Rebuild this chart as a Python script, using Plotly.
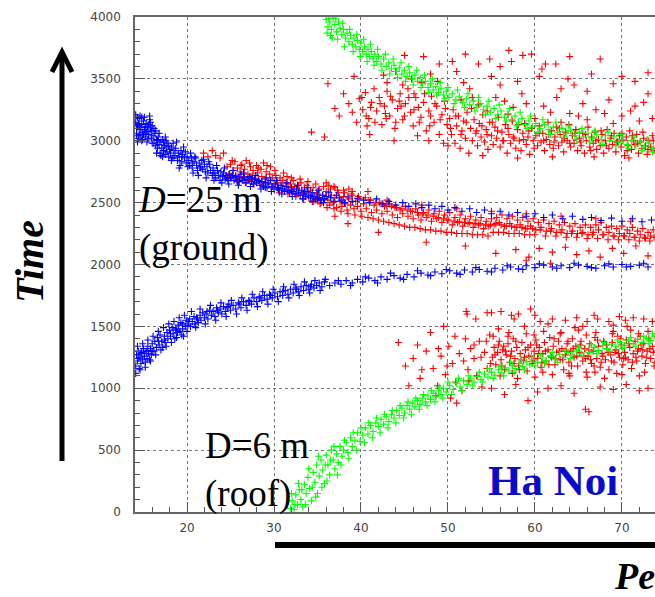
import plotly.graph_objects as go

# ---------------- data ----------------
blue_upper = [
(14.1,3150),(14.2,3060),(14.3,3120),(14.4,3020),(14.5,3180),(14.6,3090),(14.7,3040),(14.8,3130),(14.9,3070),(15.0,3160),
(14.2,3100),(14.5,3050),(14.7,3110),(14.9,3010),(14.3,3190),(15.1,3090),(15.2,3030),(15.3,3140),(15.4,3075),(15.5,3110),
(15.6,3050),(15.7,3170),(15.8,3095),(15.9,3020),(16.0,3120),(15.3,3060),(15.6,3130),(15.9,3080),
(16.1,3040),(16.2,2980),(16.3,3060),(16.4,2960),(16.5,3010),(16.6,2940),(16.7,3030),(16.8,2970),(16.9,2900),(17.0,2990),
(17.1,2940),(17.2,3010),(17.3,2920),(17.4,2960),(17.5,2890),(17.6,2950),(17.7,2910),(17.8,2980),(17.9,2870),(18.0,2930),
(16.4,3080),(17.0,2880),(17.6,3000),
(18.1,2900),(18.2,2950),(18.3,2860),(18.5,2920),(18.6,2880),(18.7,2940),(18.9,2840),(19.0,2900),(19.1,2870),(19.3,2920),
(19.4,2830),(19.5,2890),(19.7,2860),(19.8,2910),(19.9,2820),(20.0,2870),(18.4,2980),(19.2,2800),
(20.2,2840),(20.3,2800),(20.5,2860),(20.6,2780),(20.8,2830),(20.9,2870),(21.1,2800),(21.2,2760),(21.4,2820),(21.5,2790),
(21.7,2840),(21.8,2770),(22.0,2810),(22.1,2750),
(22.3,2790),(22.4,2740),(22.6,2810),(22.7,2760),(22.9,2720),(23.0,2780),(23.2,2740),(23.3,2700),(23.5,2760),(23.6,2720),
(23.8,2680),(23.9,2750),(24.1,2710),(24.2,2740),(24.4,2690),(24.5,2720),(24.7,2680),(24.9,2730),(25.0,2700),
(25.2,2720),(25.4,2680),(25.6,2710),(25.8,2670),(26.0,2700),(26.2,2730),(26.4,2680),(26.6,2700),(26.8,2660),(27.0,2690),
(27.2,2710),(27.4,2670),(27.6,2650),(27.8,2690),(28.0,2660),(28.2,2680),(28.4,2640),(28.6,2670),(28.8,2630),(29.0,2660),
(29.2,2620),(29.4,2650),(29.6,2680),(29.8,2630),(30.0,2610),
(30.2,2650),(30.4,2620),(30.6,2600),(30.8,2640),(31.0,2610),(31.2,2590),(31.4,2630),(31.6,2600),(31.8,2580),(32.0,2620),
(32.2,2590),(32.4,2570),(32.6,2610),(32.8,2580),(33.0,2560),(33.2,2600),(33.4,2570),(33.6,2550),(33.8,2590),(34.0,2560),
(34.2,2540),(34.4,2580),(34.6,2550),(34.8,2530),(35.0,2570),(35.2,2540),(35.4,2520),(35.6,2560),(35.8,2530),(36.0,2550),
(36.5,2540),(37.2,2560),(37.8,2520),(38.5,2545),(39.0,2510),(39.6,2535),(40.3,2520),(41.0,2500),(41.8,2530),(42.5,2490),
(43.2,2510),(44.0,2480),(44.8,2500),(45.5,2470),(46.3,2490),(47.0,2460),(47.8,2480),(48.5,2450),(49.3,2470),(50.0,2440),
(50.8,2460),(51.6,2430),(52.5,2450),(53.3,2420),(54.2,2440),(55.0,2410),(56.0,2430),(57.0,2400),(58.0,2420),(59.0,2390),
(60.0,2410),(61.0,2380),(62.0,2400),(63.2,2370),(64.3,2390),(65.5,2365),(66.5,2380),(67.6,2355),(68.8,2375),(70.0,2350),
(71.2,2370),(72.3,2345),(73.4,2360),
]
blue_upper_extra = [
(14.1,3210),(14.3,2990),(14.6,3200),(14.8,3000),(15.1,3190),(15.4,2990),(15.7,3200),(16.0,2980),(14.4,3140),(15.0,3050),
(15.5,3015),(16.2,3100),(16.5,2900),(16.8,3060),(17.2,2870),(17.5,3030),(17.9,2960),(18.2,2840),(18.8,2990),(19.1,2780),
(19.6,2950),(20.1,2790),(20.4,2900),(20.7,2740),(21.0,2860),(21.3,2720),(21.9,2850),(22.2,2700),(22.5,2830),(23.1,2680),
(23.4,2800),(24.0,2660),(24.3,2780),(24.8,2650),(25.3,2760),(25.9,2640),(26.5,2740),(27.3,2630),(27.9,2720),(28.5,2610),
(29.1,2700),(29.7,2590),(30.3,2680),(30.9,2570),(31.5,2660),(32.1,2550),(32.7,2640),(33.3,2530),(33.9,2620),(34.5,2510),
(35.1,2600),(35.7,2500),(36.3,2580),(36.9,2510),(37.5,2540),(38.1,2500),(14.2,3040),(14.5,3130),(14.8,3190),(15.2,3110),
(15.8,3150),(16.6,3000),(17.3,2990),(18.5,2860),(19.4,2870),(20.6,2820),(21.6,2780),(23.0,2740),(24.6,2700),(26.0,2670),
(27.5,2700),(29.0,2620),(30.5,2610),(32.0,2600),(33.5,2590),(35.0,2530),
]

blue_lower = [
(14.1,1180),(14.2,1270),(14.3,1220),(14.4,1300),(14.5,1160),(14.6,1250),(14.7,1200),(14.8,1290),(14.9,1230),(15.0,1320),
(15.1,1260),(15.2,1210),(15.3,1300),(15.4,1240),(15.5,1340),(15.6,1280),(15.7,1230),(15.8,1320),(15.9,1270),(16.0,1360),
(16.2,1300),(16.3,1380),(16.5,1330),(16.6,1410),(16.8,1350),(16.9,1430),(17.1,1380),(17.2,1330),(17.4,1420),(17.5,1370),
(17.7,1450),(17.8,1400),(18.0,1470),(18.1,1420),(18.3,1490),(18.4,1440),(18.6,1400),(18.7,1480),(18.9,1450),(19.0,1510),
(19.2,1460),(19.3,1530),(19.5,1480),(19.6,1420),(19.8,1500),(19.9,1550),(20.1,1510),(20.3,1560),(20.4,1500),(20.6,1540),
(20.8,1580),(20.9,1520),(21.1,1570),(21.3,1530),(21.5,1590),(21.6,1550),(21.8,1610),(22.0,1570),(22.2,1600),(22.4,1560),
(22.6,1630),(22.8,1590),(23.0,1620),(23.2,1580),(23.4,1650),(23.6,1610),(23.8,1640),(24.0,1600),(24.2,1660),(24.4,1620),
(24.6,1650),(24.8,1680),(25.0,1630),(25.3,1670),(25.6,1640),(25.9,1690),(26.2,1650),(26.5,1700),(26.8,1670),(27.1,1710),
(27.4,1680),(27.7,1730),(28.0,1700),(28.3,1740),(28.6,1710),(28.9,1750),(29.2,1720),(29.5,1760),(29.8,1730),(30.1,1770),
(30.4,1740),(30.7,1780),(31.0,1750),(31.3,1790),(31.6,1760),(31.9,1800),(32.2,1770),(32.5,1810),(32.8,1780),(33.1,1820),
(33.4,1790),(33.7,1830),(34.0,1800),(34.3,1840),(34.6,1810),(34.9,1830),(35.2,1850),(35.5,1820),(35.8,1860),
(36.4,1830),(37.0,1850),(37.7,1840),(38.3,1870),(39.0,1850),(39.6,1880),(40.2,1860),(40.9,1890),(41.6,1870),(42.3,1900),
(43.0,1880),(43.8,1910),(44.5,1890),(45.3,1920),(46.1,1900),(46.9,1930),(47.7,1915),(48.5,1940),(49.3,1925),(50.2,1950),
(51.0,1930),(51.9,1955),(52.8,1940),(53.6,1960),(54.5,1945),(55.4,1970),(56.3,1955),(57.2,1980),(58.1,1965),(59.0,1990),
(60.0,1975),(61.0,1995),(62.0,1980),(63.0,1990),(64.0,1975),(65.0,1995),(66.0,1985),(67.0,1970),(68.0,1990),(69.0,1980),
(70.0,2000),(71.0,1985),(72.0,1995),(73.0,1980),
]
blue_lower_extra = [
(14.1,1120),(14.3,1340),(14.6,1150),(14.9,1360),(15.2,1170),(15.5,1390),(15.8,1220),(16.1,1420),(16.4,1270),(16.7,1460),
(17.0,1310),(17.3,1490),(17.6,1340),(17.9,1520),(18.2,1370),(18.5,1540),(18.8,1410),(19.1,1570),(19.4,1430),(19.7,1590),
(20.0,1460),(20.5,1620),(21.0,1490),(21.5,1640),(22.1,1520),(22.7,1670),(23.3,1550),(23.9,1690),(24.5,1580),(25.1,1710),
(25.7,1600),(26.3,1730),(26.9,1630),(27.5,1760),(28.1,1660),(28.7,1780),(29.3,1680),(29.9,1800),(30.5,1700),(31.1,1820),
(31.7,1730),(32.3,1840),(32.9,1750),(33.5,1860),(34.1,1770),(34.7,1870),(35.3,1790),(35.9,1880),(14.4,1240),(14.7,1280),
(15.4,1300),(16.0,1300),(16.7,1380),(17.4,1390),(18.1,1440),(18.8,1470),(19.5,1520),(20.2,1540),(21.2,1560),(22.3,1620),
(23.5,1630),(24.7,1660),(26.0,1680),(27.2,1700),(28.4,1730),(29.6,1750),(31.0,1780),(32.6,1800),(34.2,1820),
(37.4,1870),(38.8,1830),(40.5,1900),(41.9,1850),(43.4,1930),(44.9,1880),(46.5,1950),(48.0,1910),(49.8,1960),(51.4,1920),
(53.2,1975),(55.0,1940),(56.8,1990),(58.6,1960),(60.5,2005),(62.5,1970),(64.5,2010),(66.5,1975),(68.5,2005),(70.5,1980),
(72.5,2010),
]

green_upper = [
(36.0,3980),(36.2,3920),(36.4,3960),(36.6,3900),(36.8,3990),(37.0,3940),(37.2,3880),(37.4,3960),(37.6,3910),(37.8,3860),
(36.5,3850),(37.1,3990),(38.0,3900),(38.2,3830),(38.4,3870),(38.6,3800),(38.8,3850),(39.0,3780),(39.2,3830),(39.4,3760),
(39.6,3810),(39.8,3740),(40.0,3790),(40.2,3720),(40.4,3760),(40.6,3700),(40.8,3740),(41.0,3680),(41.2,3720),(41.4,3660),
(41.6,3700),(41.8,3640),(42.0,3680),(42.3,3620),(42.6,3660),(42.9,3600),(43.2,3630),(43.5,3580),(43.8,3610),(44.1,3560),
(44.4,3590),(44.7,3540),(45.0,3570),(45.3,3520),(45.6,3550),(45.9,3500),(46.2,3530),(46.5,3480),(46.8,3510),(47.1,3460),
(47.4,3480),(47.7,3430),(48.0,3460),(48.3,3410),(48.6,3440),(48.9,3390),(49.2,3420),(49.5,3370),(49.8,3400),(50.1,3350),
(50.5,3380),(50.9,3330),(51.3,3360),(51.7,3310),(52.1,3340),(52.5,3290),(52.9,3320),(53.3,3270),(53.7,3300),(54.1,3250),
(54.5,3280),(54.9,3230),(55.3,3260),(55.7,3210),(56.1,3240),(56.5,3190),(56.9,3220),(57.3,3170),(57.7,3200),(58.1,3150),
(58.5,3180),(58.9,3130),(59.3,3160),(59.7,3110),(60.1,3140),(60.6,3100),(61.1,3130),(61.6,3090),(62.1,3110),(62.6,3070),
(63.1,3100),(63.6,3060),(64.1,3080),(64.6,3040),(65.1,3070),(65.6,3030),(66.1,3060),(66.6,3020),(67.1,3050),(67.6,3010),
(68.1,3040),(68.6,3000),(69.1,3030),(69.6,2990),(70.1,3010),(70.6,2970),(71.1,3000),(71.6,2960),(72.1,2990),(72.6,2950),
(73.1,2980),(73.6,2940),
]
green_upper_extra = [
(36.1,3870),(36.3,3990),(36.7,3830),(37.3,3820),(37.9,3950),(38.1,3760),(38.7,3900),(39.1,3720),(39.5,3860),(39.9,3680),
(40.3,3820),(40.7,3640),(41.1,3780),(41.5,3610),(41.9,3740),(42.4,3570),(42.8,3700),(43.3,3540),(43.7,3660),(44.2,3510),
(44.6,3630),(45.1,3480),(45.5,3600),(46.0,3450),(46.4,3570),(46.9,3430),(47.3,3530),(47.8,3390),(48.2,3500),(48.7,3370),
(49.1,3470),(49.6,3340),(50.0,3430),(50.7,3300),(51.1,3410),(51.9,3270),(52.3,3380),(53.1,3240),(53.5,3350),(54.3,3210),
(54.7,3320),(55.5,3180),(55.9,3290),(56.7,3160),(57.1,3260),(57.9,3120),(58.3,3230),(59.1,3100),(59.5,3200),(60.3,3070),
(60.9,3170),(61.8,3050),(62.4,3150),(63.3,3030),(63.9,3120),(64.8,3010),(65.4,3100),(66.3,2990),(66.9,3080),(67.8,2970),
(68.4,3070),(69.3,2960),(69.9,3050),(70.8,2940),(71.4,3030),(72.3,2920),(72.9,3010),(73.5,2910),
]

green_lower = [
(31.9,30),(32.1,90),(32.3,20),(32.5,140),(32.7,60),(32.9,180),(33.1,100),(33.3,40),(33.5,220),(33.7,150),
(33.9,280),(34.1,190),(34.3,90),(34.5,320),(34.7,240),(34.9,380),(35.0,150),(35.2,290),(35.4,420),(35.6,340),
(35.8,230),(36.0,460),(36.2,380),(36.4,300),(36.6,500),(36.8,420),(37.0,350),(37.2,470),(37.4,400),(37.6,530),
(37.8,450),(38.0,500),(38.3,560),(38.5,480),(38.8,600),(39.0,530),(39.3,580),(39.6,640),(39.9,570),(40.2,620),
(40.5,680),(40.8,630),(41.1,700),(41.4,650),(41.7,720),(42.0,690),(42.3,750),(42.6,710),(42.9,770),(43.2,730),
(43.5,790),(43.8,760),(44.1,820),(44.4,780),(44.7,840),(45.0,800),(45.3,860),(45.6,830),(45.9,880),(46.2,850),
(46.5,900),(46.8,870),(47.1,920),(47.4,890),(47.7,940),(48.0,910),(48.3,960),(48.6,930),(48.9,980),(49.2,950),
(49.5,1000),(49.8,970),(50.2,1020),(50.6,990),(51.0,1040),(51.4,1010),(51.8,1060),(52.2,1030),(52.6,1075),(53.0,1050),
(53.4,1095),(53.8,1070),(54.2,1115),(54.6,1090),(55.0,1130),(55.4,1105),(55.8,1150),(56.2,1125),(56.6,1165),(57.0,1140),
(57.4,1180),(57.8,1160),(58.2,1200),(58.6,1175),(59.0,1215),(59.4,1190),(59.8,1230),(60.3,1205),(60.8,1245),(61.3,1220),
(61.8,1260),(62.3,1235),(62.8,1275),(63.3,1250),(63.8,1290),(64.3,1265),(64.8,1300),(65.3,1280),(65.8,1315),(66.3,1290),
(66.8,1330),(67.3,1305),(67.8,1345),(68.3,1320),(68.8,1355),(69.3,1335),(69.8,1370),(70.3,1345),(70.8,1385),(71.3,1360),
(71.8,1395),(72.3,1370),(72.8,1405),(73.3,1385),(73.7,1420),
]
green_lower_extra = [
(32.0,150),(32.4,60),(32.8,230),(33.2,180),(33.6,60),(34.0,350),(34.4,200),(34.8,120),(35.1,450),(35.5,200),
(35.9,380),(36.1,250),(36.5,420),(36.9,530),(37.3,300),(37.7,380),(38.1,580),(38.6,430),(39.1,640),(39.5,500),
(40.0,680),(40.4,560),(40.9,720),(41.3,600),(41.8,760),(42.2,640),(42.7,790),(43.1,680),(43.6,820),(44.0,720),
(44.5,860),(44.9,760),(45.4,890),(45.8,790),(46.3,920),(46.7,830),(47.2,950),(47.6,860),(48.1,980),(48.5,890),
(49.0,1010),(49.4,920),(50.0,1050),(50.4,950),(51.2,1080),(51.6,980),(52.4,1100),(52.8,1020),(53.6,1130),(54.0,1050),
(54.8,1160),(55.2,1080),(56.0,1180),(56.4,1100),(57.2,1210),(57.6,1130),(58.4,1230),(58.8,1150),(59.6,1250),(60.0,1180),
(60.6,1270),(61.1,1200),(62.0,1290),(62.6,1210),(63.5,1310),(64.1,1240),(65.0,1330),(65.6,1250),(66.5,1350),(67.1,1280),
(68.0,1370),(68.6,1300),(69.5,1390),(70.1,1320),(71.0,1410),(71.6,1340),(72.5,1420),(73.1,1360),(73.5,1440),
]

red_middle = [
(21.9,2900),(22.4,2870),(22.9,2920),(23.3,2880),(23.8,2860),(24.2,2900),
(24.6,2790),(24.8,2730),(25.0,2810),(25.1,2700),(25.3,2760),(25.5,2830),(25.6,2720),(25.8,2780),(26.0,2690),(26.1,2750),
(26.3,2810),(26.5,2710),(26.6,2770),(26.8,2840),(27.0,2730),(27.1,2680),(27.3,2790),(27.5,2720),(27.6,2760),(27.8,2690),
(28.0,2800),(28.1,2740),(28.3,2670),(28.5,2770),(28.6,2710),(28.8,2820),(29.0,2690),(29.1,2750),(29.3,2660),(29.5,2730),
(29.6,2790),(29.8,2700),(30.0,2650),
(30.2,2720),(30.4,2660),(30.5,2620),(30.7,2700),(30.9,2640),(31.0,2680),(31.2,2600),(31.4,2660),(31.5,2710),(31.7,2620),
(31.9,2650),(32.1,2590),(32.2,2680),(32.4,2630),(32.6,2570),(32.8,2640),(32.9,2600),(33.1,2660),(33.3,2560),(33.5,2620),
(33.6,2580),(33.8,2640),(34.0,2540),(34.2,2600),(34.3,2560),(34.5,2620),(34.7,2520),(34.9,2580),(35.1,2540),(35.2,2610),
(35.4,2500),(35.6,2560),(35.8,2530),(36.0,2590),
(36.2,2520),(36.4,2480),(36.6,2560),(36.8,2500),(37.0,2540),(37.2,2460),(37.4,2580),(37.6,2510),(37.8,2470),(38.0,2550),
(38.2,2490),(38.4,2440),(38.6,2530),(38.8,2480),(39.0,2560),(39.2,2450),(39.4,2510),(39.6,2470),(39.8,2530),(40.0,2430),
(40.3,2490),(40.6,2450),(40.9,2520),(41.2,2420),(41.5,2480),(41.8,2440),(42.1,2500),(42.4,2410),(42.7,2470),(43.0,2430),
(43.3,2490),(43.6,2400),(43.9,2460),(44.2,2380),(44.5,2440),(44.8,2410),
(45.1,2470),(45.4,2390),(45.7,2430),(46.0,2370),(46.3,2450),(46.6,2400),(46.9,2360),(47.2,2420),(47.5,2380),(47.8,2440),
(48.1,2350),(48.4,2410),(48.7,2370),(49.0,2430),(49.3,2340),(49.6,2400),(49.9,2360),(50.2,2420),(50.5,2320),(50.8,2380),
(51.1,2340),(51.4,2400),(51.7,2310),(52.0,2370),(52.3,2330),(52.6,2390),(52.9,2300),(53.2,2360),(53.5,2320),(53.8,2380),
(54.1,2290),(54.4,2350),(54.7,2310),(55.0,2370),
(55.3,2320),(55.6,2380),(55.9,2340),(56.2,2400),(56.5,2310),(56.8,2370),(57.1,2330),(57.4,2390),(57.7,2300),(58.0,2360),
(58.3,2320),(58.6,2380),(58.9,2290),(59.2,2350),(59.5,2310),(59.8,2370),(60.1,2280),(60.4,2340),(60.7,2300),(61.0,2360),
(61.3,2270),(61.6,2330),(61.9,2290),(62.2,2350),(62.5,2260),(62.8,2320),(63.1,2280),(63.4,2340),(63.7,2250),(64.0,2310),
(64.3,2270),(64.6,2330),(64.9,2250),(65.2,2300),(65.5,2260),(65.8,2320),(66.1,2240),(66.4,2300),(66.7,2260),(67.0,2320),
(67.3,2280),(67.6,2340),(67.9,2240),(68.2,2300),(68.5,2260),(68.8,2310),(69.1,2230),(69.4,2290),(69.7,2250),(70.0,2310),
(70.3,2230),(70.6,2280),(70.9,2250),(71.2,2300),(71.5,2220),(71.8,2270),(72.1,2240),(72.4,2290),(72.7,2210),(73.0,2260),
(73.3,2230),(73.6,2280),
(52.0,2150),(55.5,2090),(57.8,2120),(59.3,2060),(60.5,2130),(62.0,2100),(63.5,2140),(64.8,2080),(66.2,2110),(67.5,2060),
(68.9,2130),(70.2,2090),(71.6,2150),(73.0,2070),(59.0,2030),(61.8,2010),(47.5,2180),(42.0,2260),(38.5,2330),(37.0,2390),
(36.3,2640),(36.9,2630),(38.6,2610),(40.8,2590),
]
red_middle_extra = [
(24.7,2700),(25.2,2840),(25.7,2680),(26.2,2800),(26.7,2660),(27.2,2820),(27.7,2650),(28.2,2780),(28.7,2640),(29.2,2800),
(29.7,2620),(30.1,2760),(30.6,2580),(31.1,2740),(31.6,2570),(32.0,2700),(32.5,2550),(33.0,2690),(33.4,2530),(33.9,2670),
(34.4,2510),(34.8,2650),(35.3,2490),(35.7,2630),(36.1,2460),(36.5,2610),(36.9,2450),(37.3,2600),(37.7,2430),(38.1,2580),
(38.5,2410),(38.9,2570),(39.3,2400),(39.7,2550),(40.1,2390),(40.5,2540),(40.8,2380),(41.1,2520),(41.4,2370),(41.7,2500),
(42.0,2360),(42.3,2490),(42.6,2350),(42.9,2480),(43.2,2340),(43.5,2470),(43.8,2330),(44.1,2460),(44.4,2320),(44.7,2450),
(45.0,2310),(45.3,2440),(45.6,2300),(45.9,2430),(46.2,2300),(46.5,2420),(46.8,2290),(47.1,2410),(47.4,2280),(47.7,2400),
(48.0,2280),(48.3,2390),(48.6,2270),(48.9,2380),(49.2,2270),(49.5,2370),(49.8,2260),(50.1,2360),(50.4,2260),(50.7,2350),
(51.0,2250),(51.3,2350),(51.6,2250),(51.9,2340),(52.2,2250),(52.5,2340),(52.8,2240),(53.1,2330),(53.4,2240),(53.7,2330),
(54.0,2240),(54.3,2320),(54.6,2230),(54.9,2320),
(55.2,2260),(55.5,2330),(55.8,2260),(56.1,2320),(56.4,2260),(56.7,2310),(57.0,2250),(57.3,2310),(57.6,2250),(57.9,2300),
(58.2,2250),(58.5,2300),(58.8,2240),(59.1,2290),(59.4,2240),(59.7,2290),(60.0,2240),(60.6,2280),(61.2,2230),(61.8,2270),
(62.4,2230),(63.0,2260),(63.6,2220),(64.2,2250),(64.8,2220),(65.4,2250),(66.0,2210),(66.6,2240),(67.2,2210),(67.8,2240),
(68.4,2200),(69.0,2230),(69.6,2200),(70.2,2230),(70.8,2200),(71.4,2220),(72.0,2190),(72.6,2220),(73.2,2190),(73.7,2220),
(43.0,2520),(47.0,2480),(51.0,2450),(55.0,2430),(59.0,2410),(63.0,2390),(67.0,2370),(71.0,2350),(36.0,2660),(37.0,2620),
(38.0,2600),(39.0,2590),
]

red_upper = [
(36.2,3460),(34.3,3070),(35.8,3030),(37.5,3200),(38.0,3380),(38.6,3300),(39.2,3520),(39.5,3150),(39.8,3340),(37.0,3260),
(40.2,3250),(40.5,3390),(40.9,3180),(41.2,3310),(41.5,3420),(41.8,3240),(42.1,3350),(42.4,3130),(42.7,3280),(43.0,3400),
(43.3,3200),(43.6,3330),(43.9,3100),(44.2,3260),(44.5,3380),(44.8,3170),(45.1,3300),(45.4,3420),(45.7,3230),(46.0,3120),
(46.3,3350),(46.6,3270),(46.9,3190),(47.2,3310),(47.5,3080),(47.8,3240),(48.1,3360),(48.4,3150),(48.7,3280),(49.0,3050),
(49.3,3210),(49.6,3320),(49.9,3130),(45.8,3500),(42.6,3530),(47.0,3470),(44.0,3560),(48.8,3480),(41.0,3050),(43.8,3000),
(46.5,3040),(49.5,2980),(40.7,3120),(44.6,3280),(48.0,3200),(42.9,3180),(46.1,3380),
(50.2,3180),(50.4,3050),(50.6,3250),(50.8,2980),(51.0,3120),(51.2,3200),(51.4,2940),(51.6,3080),(51.8,3160),(52.0,3020),
(52.2,3230),(52.4,2900),(52.6,3100),(52.8,3000),(53.0,3170),(53.2,3060),(53.4,2960),(53.6,3140),(53.8,3030),(54.0,3210),
(54.2,2990),(54.4,3090),(54.6,2930),(54.8,3150),(55.0,3040),(55.2,2970),(55.4,3110),(55.6,3020),(55.8,3190),(56.0,2950),
(56.2,3070),(56.4,3000),(56.6,3130),(56.8,2900),(57.0,3050),(57.2,2980),(57.4,3160),(57.6,3020),(57.8,2940),(58.0,3090),
(58.2,3000),(58.4,2920),(58.6,3060),(58.8,3140),(59.0,2970),(59.2,3030),(59.4,2890),(59.6,3100),(59.8,3000),(51.5,3330),
(53.5,3290),(55.5,3350),(57.5,3270),(59.0,3300),(52.5,3420),(56.0,3450),(58.5,3380),(54.5,3240),(56.9,3210),
(60.1,3040),(60.3,2960),(60.5,3120),(60.7,2990),(60.9,3060),(61.1,2920),(61.3,3010),(61.5,3150),(61.7,2970),(61.9,3080),
(62.1,2940),(62.3,3030),(62.5,3110),(62.7,2960),(62.9,3050),(63.1,2990),(63.3,2910),(63.5,3070),(63.7,3000),(63.9,3130),
(64.1,2950),(64.3,3040),(64.5,2980),(64.7,3090),(64.9,2920),(65.1,3020),(65.3,2960),(65.5,3060),(65.7,2900),(65.9,3000),
(66.1,3110),(66.3,2950),(66.5,3030),(66.7,2980),(66.9,3070),(67.1,2930),(67.3,3010),(67.5,2960),(67.7,3050),(67.9,2900),
(68.1,3000),(68.3,3090),(68.5,2940),(68.7,3020),(68.9,2970),(69.1,3060),(69.3,2910),(69.5,2990),(69.7,3040),(69.9,2950),
(70.1,3000),(70.3,2880),(70.5,3030),(70.7,2960),(70.9,3080),(71.1,2930),(71.3,3000),(71.5,2970),(71.7,3050),(71.9,2900),
(72.1,2990),(72.3,2940),(72.5,3020),(72.7,2960),(72.9,2890),(73.1,3000),(73.3,2950),(73.5,3040),(73.7,2920),
(61.0,3280),(62.5,3350),(64.0,3220),(65.5,3300),(67.0,3250),(68.5,3330),(70.0,3200),(71.5,3280),(73.0,3380),(63.0,3420),
(66.0,3400),(69.0,3460),(72.5,3310),
(45.0,3690),(47.2,3680),(49.0,3620),(50.5,3640),(52.0,3700),(53.5,3620),(54.8,3660),(56.0,3600),(57.3,3640),(58.6,3690),
(59.6,3700),(61.2,3620),(62.4,3620),(64.0,3680),(67.5,3660),(73.0,3550),(51.0,3560),(55.0,3520),(48.0,3540),(60.5,3520),
(63.8,3500),(66.5,3540),(70.0,3520),(71.5,3480),
]
red_upper_extra = [
(40.1,3350),(40.6,3200),(41.1,3270),(41.6,3150),(42.2,3300),(42.8,3220),(43.4,3360),(44.0,3150),(44.4,3320),(45.0,3200),
(45.5,3350),(46.1,3250),(46.7,3150),(47.3,3380),(47.9,3120),(48.5,3300),(49.1,3170),(49.7,3260),(50.3,3100),(50.9,3200),
(51.5,3050),(52.1,3150),(52.7,3260),(53.3,3080),(53.9,3120),(54.5,3050),(55.1,3150),(55.7,3080),(56.3,3000),(56.9,3100),
(57.5,3030),(58.1,3130),(58.7,3010),(59.3,3080),(59.9,2940),(60.5,3060),(61.0,3000),(61.6,3050),(62.2,2990),(62.8,3100),
(63.4,3020),(64.0,2980),(64.6,3060),(65.2,2990),(65.8,3050),(66.4,2920),(67.0,3000),(67.6,3080),(68.2,2960),(68.8,3040),
(69.4,2990),(70.0,3060),(70.6,2920),(71.2,3040),(71.8,2980),(72.4,3070),(73.0,2930),(73.6,3000),(60.0,3180),(63.0,3150),
(66.0,3170),(69.0,3140),(72.0,3160),(58.0,2860),(62.0,2870),(66.8,2870),(70.8,2860),(54.0,2880),(50.0,2960),(47.8,3000),
(52.8,3350),(56.5,3320),(61.8,3230),(65.0,3200),(68.0,3220),(71.0,3240),(73.5,3180),(44.8,3450),(51.8,3470),(58.0,3480),
(64.5,3450),(57.0,3730),(60.8,3580),(43.0,3470),(39.0,3230),
]

red_lower = [
(44.3,1370),(45.1,1180),(46.0,1240),(46.8,1080),(47.5,1300),(48.0,1450),(48.3,1160),(48.8,1020),(49.2,1260),(49.7,1110),
(50.1,1340),(50.5,1200),(50.9,1050),(51.3,1280),(51.6,980),(52.0,1400),(52.3,1150),(52.6,1320),(48.6,940),(50.3,920),
(51.0,880),(52.1,1620),(53.0,1240),(53.3,1100),(53.6,1380),(53.9,1010),(54.2,1290),(54.5,1160),(54.8,1430),(49.5,1500),
(55.1,1250),(55.3,1330),(55.5,1190),(55.7,1290),(55.9,1380),(56.1,1230),(56.3,1310),(56.5,1150),(56.7,1270),(56.9,1360),
(57.1,1210),(57.3,1300),(57.5,1400),(57.7,1240),(57.9,1330),(58.1,1180),(58.3,1280),(58.5,1370),(58.7,1220),(58.9,1310),
(59.1,1140),(59.3,1260),(59.5,1350),(59.7,1200),(59.9,1300),(60.1,1390),(60.3,1240),(60.5,1330),(60.7,1170),(60.9,1280),
(61.1,1370),(61.3,1220),(61.5,1310),(61.7,1410),(61.9,1250),(62.1,1340),(62.3,1190),(62.5,1290),(62.7,1380),(62.9,1230),
(63.1,1320),(63.3,1150),(63.5,1270),(63.7,1360),(63.9,1210),(64.1,1300),(64.3,1400),(64.5,1250),(64.7,1340),(64.9,1180),
(65.1,1290),(65.3,1380),(65.5,1220),(65.7,1320),(65.9,1130),(66.1,1260),(66.3,1360),(66.5,1200),(66.7,1300),(66.9,1410),
(67.1,1240),(67.3,1340),(67.5,1170),(67.7,1280),(67.9,1380),(68.1,1230),(68.3,1320),(68.5,1150),(68.7,1270),(68.9,1370),
(69.1,1210),(69.3,1310),(69.5,1420),(69.7,1250),(69.9,1350),(70.1,1190),(70.3,1290),(70.5,1390),(70.7,1230),(70.9,1330),
(71.1,1160),(71.3,1280),(71.5,1380),(71.7,1220),(71.9,1320),(72.1,1420),(72.3,1260),(72.5,1360),(72.7,1200),(72.9,1300),
(73.1,1400),(73.3,1240),(73.5,1340),(73.7,1180),
(55.2,1420),(56.0,1100),(57.0,1450),(58.0,1080),(59.0,1440),(60.0,1090),(61.0,1460),(62.0,1110),(63.0,1450),(64.0,1100),
(65.0,1470),(66.0,1090),(67.0,1450),(68.0,1080),(69.0,1460),(70.0,1110),(71.0,1470),(72.0,1100),(73.0,1460),(74.0,1300),
(56.4,1340),(58.4,1230),(60.4,1280),(62.4,1240),(64.4,1320),(66.4,1230),(68.4,1290),(70.4,1250),(72.4,1310),(57.6,1200),
(59.6,1260),(61.6,1190),(63.6,1300),(65.6,1260),(67.6,1210),(69.6,1280),(71.6,1250),(73.6,1290),
(52.2,1600),(54.5,1610),(55.0,1610),(56.1,1620),(57.3,1590),(58.1,1600),(59.5,1640),(60.6,1540),(62.0,1560),(63.5,1550),
(64.8,1570),(66.0,1540),(67.2,1560),(68.5,1540),(69.7,1580),(70.4,1550),(71.3,1570),(72.5,1560),(73.5,1540),(61.5,1520),
(65.5,1500),(69.0,1510),
(55.0,1000),(56.5,950),(57.8,1030),(59.2,900),(60.3,970),(61.5,1000),(63.0,1020),(64.5,960),(65.8,830),(66.2,810),
(67.5,1010),(69.0,990),(70.5,1030),(72.0,980),(73.0,1000),
]
red_lower_extra = [
(53.0,1350),(53.8,1250),(54.4,1380),(54.9,1200),(55.4,1270),(55.8,1350),(56.2,1180),(56.6,1300),(57.2,1260),(57.8,1380),
(58.2,1150),(58.8,1250),(59.2,1330),(59.8,1220),(60.2,1350),(60.8,1210),(61.2,1300),(61.8,1260),(62.2,1400),(62.8,1300),
(63.2,1230),(63.8,1380),(64.2,1180),(64.8,1260),(65.2,1350),(65.8,1240),(66.2,1310),(66.8,1180),(67.2,1390),(67.8,1260),
(68.2,1350),(68.8,1220),(69.2,1290),(69.8,1400),(70.2,1240),(70.8,1360),(71.2,1210),(71.8,1300),(72.2,1350),(72.8,1250),
(73.2,1320),(73.8,1210),(56.9,1420),(59.9,1430),(62.9,1440),(65.9,1430),(68.9,1440),(71.9,1440),(57.4,1120),(60.9,1130),
(63.9,1120),(66.9,1130),(69.4,1120),(72.6,1130),(47.0,1150),(48.9,1320),(50.8,1420),(52.4,1060),(51.8,1220),(49.9,1180),
(46.5,1350),(45.5,1020),(55.8,1480),(58.8,1500),(64.6,1490),(70.6,1500),(53.2,1560),(57.6,1560),(60.0,1590),(66.8,1590),
]

x_tick_vals = [20, 30, 40, 50, 60, 70]
y_tick_vals = [0, 500, 1000, 1500, 2000, 2500, 3000, 3500, 4000]

# ---------------- figure ----------------
W, H = 655, 597
L, R, T, B = 135, 0, 17, 85
PW, PH = W - L - R, H - T - B


def px(xp):
    return (xp - L) / PW


def py(yp):
    return (H - B - yp) / PH


fig = go.Figure()


def add_series(pts, color):
    xs = [p[0] for p in pts]
    ys = [p[1] for p in pts]
    fig.add_trace(go.Scatter(
        x=xs, y=ys, mode="markers", showlegend=False, hoverinfo="skip",
        marker=dict(symbol="cross-thin", size=5, color=color,
                    line=dict(color=color, width=1.1)),
    ))


RED, BLUE, GREEN = "#ff0000", "#0000ff", "#00ff00"
for pts in (red_upper, red_upper_extra, red_middle, red_middle_extra,
            red_lower, red_lower_extra):
    add_series(pts, RED)
for pts in (blue_upper, blue_upper_extra, blue_lower, blue_lower_extra):
    add_series(pts, BLUE)
for pts in (green_upper, green_upper_extra, green_lower, green_lower_extra):
    add_series(pts, GREEN)

tickfont = dict(family="DejaVu Sans", size=12, color="#444444")

fig.update_xaxes(
    range=[14.02, 73.8], tickvals=x_tick_vals, ticks="inside", ticklen=10,
    tickcolor="#555555", tickwidth=1, showline=True, linecolor="#666666",
    linewidth=1.5, mirror=True, showgrid=True, gridcolor="#777777",
    griddash="dot", gridwidth=1, zeroline=False, tickfont=tickfont,
    ticklabelstandoff=4,
    minor=dict(dtick=2, tick0=0, ticks="inside", ticklen=5, tickcolor="#555555",
               showgrid=False),
)
fig.update_yaxes(
    range=[0, 4000], tickvals=y_tick_vals, ticks="inside", ticklen=10,
    tickcolor="#555555", tickwidth=1, showline=True, linecolor="#666666",
    linewidth=1.5, showgrid=True, gridcolor="#777777", griddash="dot",
    gridwidth=1, zeroline=False, tickfont=tickfont, ticklabelstandoff=10,
    minor=dict(dtick=100, tick0=0, ticks="inside", ticklen=5, tickcolor="#555555",
               showgrid=False),
)

serif = "Liberation Serif"
annotations = [
    dict(x=px(29), y=py(262), text="<b><i>Time</i></b>", textangle=-90,
         font=dict(family=serif, size=40, color="black"),
         xanchor="center", yanchor="middle"),
    dict(x=px(136), y=py(224), text="<i>D</i>=25 m<br>(ground)",
         font=dict(family=serif, size=37, color="black"),
         xanchor="left", yanchor="middle", align="left"),
    dict(x=px(203), y=py(470), text="D=6 m<br>(roof)",
         font=dict(family=serif, size=37, color="black"),
         xanchor="left", yanchor="middle", align="left"),
    dict(x=px(486), y=py(480), text="<b>Ha Noi</b>",
         font=dict(family=serif, size=43, color="#0a0acc"),
         xanchor="left", yanchor="middle"),
    dict(x=px(612), y=py(576), text="<b><i>Pe</i></b>",
         font=dict(family=serif, size=38, color="black"),
         xanchor="left", yanchor="middle"),
]
for a in annotations:
    a.update(xref="paper", yref="paper", showarrow=False)

shapes = [
    dict(type="line", x0=px(62), x1=px(62), y0=py(461), y1=py(53),
         line=dict(color="black", width=5)),
    dict(type="path",
         path=f"M {px(52)},{py(72)} L {px(62)},{py(52)} L {px(72)},{py(72)}",
         line=dict(color="black", width=5)),
    dict(type="line", x0=px(275), x1=px(660), y0=py(545), y1=py(545),
         line=dict(color="black", width=6)),
]
for s in shapes:
    s.update(xref="paper", yref="paper", layer="above")

fig.update_layout(
    width=W, height=H, margin=dict(l=L, r=R, t=T, b=B, pad=0),
    paper_bgcolor="white", plot_bgcolor="white",
    annotations=annotations, shapes=shapes, showlegend=False,
)

fig.write_html("out.html")
